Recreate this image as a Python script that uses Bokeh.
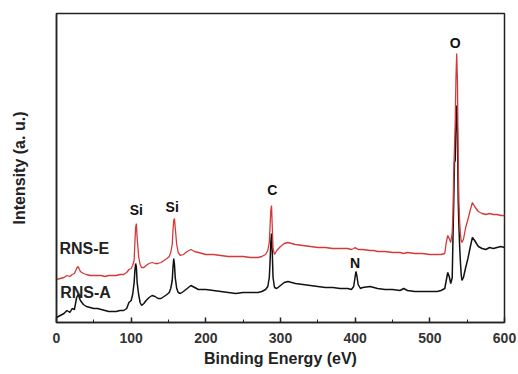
from bokeh.plotting import figure
from bokeh.models import Range1d, SingleIntervalTicker, FixedTicker
from bokeh.core.properties import value
from bokeh.embed import file_html
from bokeh.resources import INLINE

# Binding energy grid (eV)
energy = [0,5,10,14,18,21,24,27,29,32,36,40,45,50,55,60,65,70,75,80,85,90,94,97,100,102,104,105,106,107,108,110,112,114,117,120,124,128,132,136,140,144,148,151,153,155,156,157,158,159,161,163,166,170,175,180,185,190,195,200,210,220,230,240,250,260,270,275,280,283,285,286,287,288,289,290,292,295,300,305,310,315,320,330,340,350,360,370,380,390,395,398,400,401,402,404,407,410,420,425,430,440,450,460,465,470,480,490,500,510,515,520,522,524,526,528,530,531,532,533,534,535,536,537,538,539,540,541,542,543,545,548,551,554,557,560,565,570,575,580,585,590,595,600]

# RNS-A intensity (a.u., arbitrary offset)
rns_a = [5,7,9,12,10,14,13,25,28,22,18,16,15,14,14,13,12,11,11,11,12,12,14,20,22,28,40,52,59,55,40,28,20,17,19,22,25,27,26,24,24,26,28,30,34,42,55,64,58,45,34,30,29,31,34,37,35,33,33,33,32,31,30,29,30,30,30,31,33,36,45,60,80,89,70,45,35,34,37,40,41,40,39,38,37,36,35,35,34,34,33,36,46,51,48,38,34,35,36,35,34,33,33,32,34,32,31,31,31,31,32,34,42,50,46,39,45,85,120,160,162,200,217,190,122,95,75,60,48,42,45,55,64,75,85,82,76,74,73,75,74,75,76,75]

# RNS-E intensity (a.u., arbitrary offset)
rns_e = [43,44,45,47,46,48,49,54,56,51,49,48,47,47,47,47,46,47,47,47,48,48,50,53,54,57,62,80,95,99,85,66,58,55,55,57,59,60,59,59,60,62,64,66,70,78,92,102,104,95,78,70,67,68,71,73,71,70,69,68,68,67,66,66,66,65,65,66,68,72,80,96,112,117,95,74,68,72,76,79,80,79,78,77,76,75,75,74,74,74,73,74,75,74,74,73,73,73,72,72,71,71,70,70,69,70,69,69,68,68,68,69,80,87,84,80,90,110,150,175,200,245,269,240,160,120,100,88,82,80,83,95,103,112,120,116,111,109,108,109,108,108,107,107]

# Peak / series labels
label_text = ["Si", "Si", "C", "N", "O"]
label_x = [107, 155, 289, 400, 534]
label_y = [113, 116, 133, 60, 280]

series_names = ["RNS-E", "RNS-A"]
series_x = [4, 5]
series_y = [74, 30]

x_ticks_interval = 100

p = figure(width=518, height=374, output_backend="svg", toolbar_location=None,
           x_range=Range1d(0, 600), y_range=Range1d(0, 309),
           min_border_left=56, min_border_right=14, min_border_top=13, min_border_bottom=52)
p.xgrid.visible = False
p.ygrid.visible = False
p.outline_line_color = "#222222"
p.outline_line_width = 1.5
p.background_fill_color = "white"
p.border_fill_color = "white"

p.line(energy, rns_a, line_color="#111111", line_width=1.5)
p.line(energy, rns_e, line_color="#d33a3a", line_width=1.3)

font = value("Liberation Sans")
p.text(x=label_x, y=label_y, text=label_text, text_font=font, text_font_style="bold",
       text_font_size="14px", text_align="center", text_baseline="middle", text_color="#111111")
p.text(x=series_x, y=series_y, text=series_names, text_font=font, text_font_style="bold",
       text_font_size="16px", text_align="left", text_baseline="middle", text_color="#222222")

xa = p.xaxis[0]
xa.ticker = SingleIntervalTicker(interval=x_ticks_interval, num_minor_ticks=2)
xa.major_tick_in = 5
xa.major_tick_out = 0
xa.minor_tick_in = 3
xa.minor_tick_out = 0
xa.major_tick_line_color = "#222222"
xa.minor_tick_line_color = "#222222"
xa.major_tick_line_width = 1.5
xa.axis_line_color = "#222222"
xa.axis_line_width = 1.5
xa.major_label_text_font = "Liberation Sans"
xa.major_label_text_font_style = "bold"
xa.major_label_text_font_size = "14px"
xa.major_label_text_color = "#333333"
xa.major_label_standoff = 10
xa.axis_label = "Binding Energy (eV)"
xa.axis_label_text_font = "Liberation Sans"
xa.axis_label_text_font_style = "bold"
xa.axis_label_text_font_size = "16px"
xa.axis_label_text_color = "#222222"
xa.axis_label_standoff = 4

ya = p.yaxis[0]
ya.ticker = FixedTicker(ticks=[])
ya.major_tick_in = 0
ya.major_tick_out = 0
ya.minor_tick_in = 0
ya.minor_tick_out = 0
ya.axis_line_color = "#222222"
ya.axis_line_width = 1.5
ya.axis_label = "Intensity (a. u.)"
ya.axis_label_text_font = "Liberation Sans"
ya.axis_label_text_font_style = "bold"
ya.axis_label_text_font_size = "16px"
ya.axis_label_text_color = "#222222"
ya.axis_label_standoff = 29

open("out.html", "w").write(file_html(p, INLINE))
